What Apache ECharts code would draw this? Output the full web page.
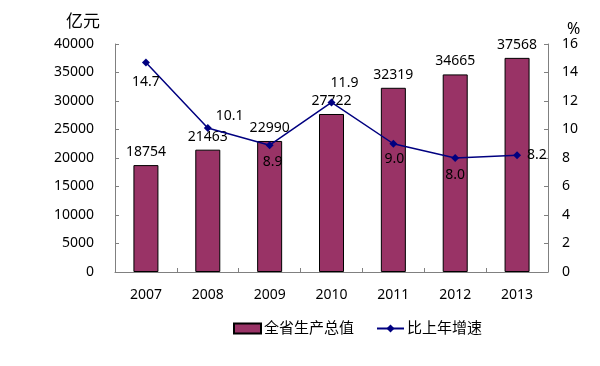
<!DOCTYPE html>
<html><head><meta charset="utf-8">
<script src="https://cdn.jsdelivr.net/npm/echarts@6/dist/echarts.min.js"></script>
<style>html,body{margin:0;padding:0;background:#fff}#c{width:600px;height:366px}</style>
</head><body><div id="c"></div>
<script>
var years = ['2007','2008','2009','2010','2011','2012','2013'];
var gdp = [18754, 21463, 22990, 27722, 32319, 34665, 37568];
var growth = [14.7, 10.1, 8.9, 11.9, 9.0, 8.0, 8.2];
var growthLabelPos = ['bottom','right','bottom','top','bottom','bottom','right'];
var growthLabelOff = [[0,2],[-2,-12],[3,0],[13,-2],[1,-2],[0,0],[0,0]];
var FONT = '"Noto Sans","Noto Sans CJK SC",sans-serif';
var chart = echarts.init(document.getElementById('c'), null, {renderer:'canvas'});
chart.setOption({
  animation:false,
  textStyle:{fontFamily:FONT},
  grid:{left:115,right:52,top:44,bottom:94},
  legend:{
    top:316, left:228, itemGap:22, itemWidth:27, itemHeight:10,
    textStyle:{fontSize:15,color:'#000',fontFamily:FONT,padding:[0,0,0,-2]},
    data:[{name:'全省生产总值',icon:'rect'},{name:'比上年增速'}]
  },
  graphic:[
    {type:'text',left:66,top:14,style:{text:'亿元',fontSize:17,fill:'#000',fontFamily:FONT}},
    {type:'text',left:567,top:21,style:{text:'%',fontSize:16,fill:'#000',fontFamily:FONT}}
  ],
  xAxis:{
    type:'category',data:years,
    axisLine:{lineStyle:{color:'#808080'}},
    axisTick:{show:true,inside:true,length:4,lineStyle:{color:'#808080'}},
    axisLabel:{color:'#000',fontSize:14,margin:16}
  },
  yAxis:[
    {type:'value',min:0,max:40000,interval:5000,splitLine:{show:false},
     axisLine:{show:true,lineStyle:{color:'#808080'}},
     axisTick:{show:true,inside:true,length:4,lineStyle:{color:'#808080'}},
     axisLabel:{color:'#000',fontSize:14,margin:21,formatter:function(v){return String(v);}}},
    {type:'value',min:0,max:16,interval:2,splitLine:{show:false},
     axisLine:{show:true,lineStyle:{color:'#808080'}},
     axisTick:{show:true,inside:true,length:4,lineStyle:{color:'#808080'}},
     axisLabel:{color:'#000',fontSize:14,margin:14}}
  ],
  series:[
    {name:'全省生产总值',type:'bar',data:gdp,barWidth:25,
     itemStyle:{color:'#993366',borderColor:'#000',borderWidth:1},
     label:{show:true,position:'top',distance:6,color:'#000',fontSize:14}},
    {name:'比上年增速',type:'line',yAxisIndex:1,
     data:growth.map(function(v,i){return {value:v,label:{position:growthLabelPos[i],offset:growthLabelOff[i]}};}),
     symbol:'diamond',symbolSize:8,
     lineStyle:{color:'#000080',width:1.5},itemStyle:{color:'#000080'},
     label:{show:true,color:'#000',fontSize:14,distance:6,
       formatter:function(p){return p.value.toFixed(1);}}}
  ]
});
</script></body></html>
